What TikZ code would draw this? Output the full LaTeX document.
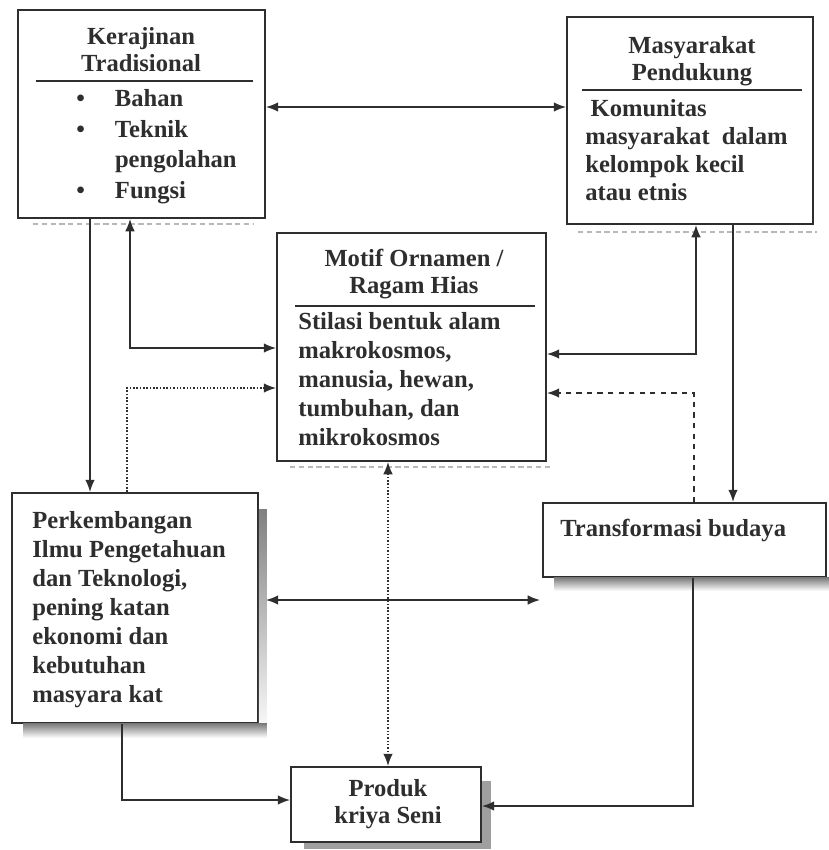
\documentclass[tikz,border=0pt]{standalone}
\usepackage{fontspec}
\setmainfont{Liberation Serif}
\usetikzlibrary{positioning,calc,arrows.meta}
\definecolor{ink}{HTML}{2E2E2E}
\definecolor{shade}{HTML}{383838}

\begin{document}
\begin{tikzpicture}[x=0.02cm,y=-0.02cm,
    box/.style={draw=ink, line width=1.1pt, inner sep=0pt},
    txt/.style={inner sep=0pt, text=ink, align=left,
      font=\fontsize{14}{16.5}\selectfont\bfseries},
    ttl/.style={txt, align=center, font=\fontsize{14}{15.5}\selectfont\bfseries},
    tip/.tip={Latex[length=7pt,width=5.5pt]},
    link/.style={draw=ink, line width=0.9pt, -tip},
    twoway/.style={draw=ink, line width=0.9pt, tip-tip},
    dots/.style={densely dotted},
    rule/.style={draw=ink, line width=1.1pt},
    speck/.style={draw=gray!55, line width=1.6pt, dash pattern=on 3pt off 2pt}]
  \useasboundingbox (0,0) rectangle (829,850);

  % boxes
  \node[box, minimum width=4.94cm, minimum height=4.16cm] (trad) at (141.5,114) {};
  \node[box, minimum width=4.92cm, minimum height=4.14cm] (masy) at (690,120.5) {};
  \node[box, minimum width=5.38cm, minimum height=4.56cm] (motif) at (411.5,347) {};
  \node[box, minimum width=4.92cm, minimum height=4.6cm] (perk) at (135,608) {};
  \node[box, minimum width=5.66cm, minimum height=1.48cm] (trans) at (684.5,540) {};
  \node[box, minimum width=3.8cm, minimum height=1.5cm] (prod) at (386,804.5) {};

  % shadows
  \fill[shade] ($(perk.north east)+(0,17)$) rectangle ($(perk.south east)+(8,14)$);
  \fill[shade] ($(perk.south west)+(12,0)$) rectangle ($(perk.south east)+(8,14)$);
  \fill[shade] ($(trans.south west)+(12,0)$) rectangle ($(trans.south east)+(3,13)$);
  \fill[gray!75] ($(prod.north east)+(0,15)$) rectangle ($(prod.south east)+(9,6)$);
  \fill[gray!75] ($(prod.south west)+(14,0)$) rectangle ($(prod.south east)+(9,6)$);
  \draw[speck] (33,224) -- (253,224);
  \draw[speck] (578,232) -- (817,232);
  \draw[speck] (290,467) -- (553,467);

  % texts
  \node[ttl, anchor=north] (tradtitle) at (141,27) {Kerajinan\\Tradisional};
  \draw[rule] (36,81) -- (253,81);
  \node[txt, anchor=north west, font=\fontsize{14}{17.5}\selectfont\bfseries]
    (tradbody) at (76,89)
    {\makebox[22pt][l]{\textbullet}Bahan\\
     \makebox[22pt][l]{\textbullet}Teknik\\
     \makebox[22pt][l]{}pengolahan\\
     \makebox[22pt][l]{\textbullet}Fungsi};

  \node[ttl, anchor=north] (masytitle) at (692,36) {Masyarakat\\Pendukung};
  \draw[rule] (582,90) -- (802,90);
  \node[txt, anchor=north west, font=\fontsize{14}{16}\selectfont\bfseries]
    (masybody) at (585,99)
    {\hspace{3pt}Komunitas\\masyarakat\ \ dalam\\kelompok kecil\\atau etnis};

  \node[ttl, anchor=north] (motiftitle) at (414,249) {Motif Ornamen /\\Ragam Hias};
  \draw[rule] (295,306) -- (535,306);
  \node[txt, anchor=north west] (motifbody) at (298,312)
    {Stilasi bentuk alam\\makrokosmos,\\manusia, hewan,\\tumbuhan, dan\\mikrokosmos};

  \node[txt, anchor=north west] (perkbody) at (32,511)
    {Perkembangan\\Ilmu Pengetahuan\\dan Teknologi,\\pening katan\\ekonomi dan\\kebutuhan\\masyara kat};
  \node[txt, anchor=north west] (transbody) at (560,519) {Transformasi budaya};
  \node[ttl, anchor=north] (prodbody) at (388,779) {Produk\\kriya Seni};

  % connectors
  \coordinate (gap) at (540,600);
  \draw[twoway] (trad.east |- 0,107) -- (masy.west |- 0,107);
  \draw[link] (trad.south -| 90,0) -- (perk.north -| 90,0);
  \draw[twoway] (trad.south -| 130,0) |- (motif.west |- 0,348);
  \draw[link, dots] (perk.north -| 127,0) |- (motif.west |- 0,388);
  \draw[twoway] (masy.south -| 696,0) |- (motif.east |- 0,354);
  \draw[link] (masy.south -| 733,0) -- (trans.north -| 733,0);
  \draw[link, dashed] (trans.north -| 694,0) |- (motif.east |- 0,393);
  \draw[twoway] ($(perk.east |- 0,600)+(7,0)$) -- (gap);
  \draw[twoway, dots] (motif.south -| 388,0) -- (prod.north -| 388,0);
  \draw[link] (perk.south -| 122,0) |- (prod.west |- 0,800);
  \draw[link] (trans.south -| 693,0) |- (prod.east |- 0,806);
\end{tikzpicture}
\end{document}
